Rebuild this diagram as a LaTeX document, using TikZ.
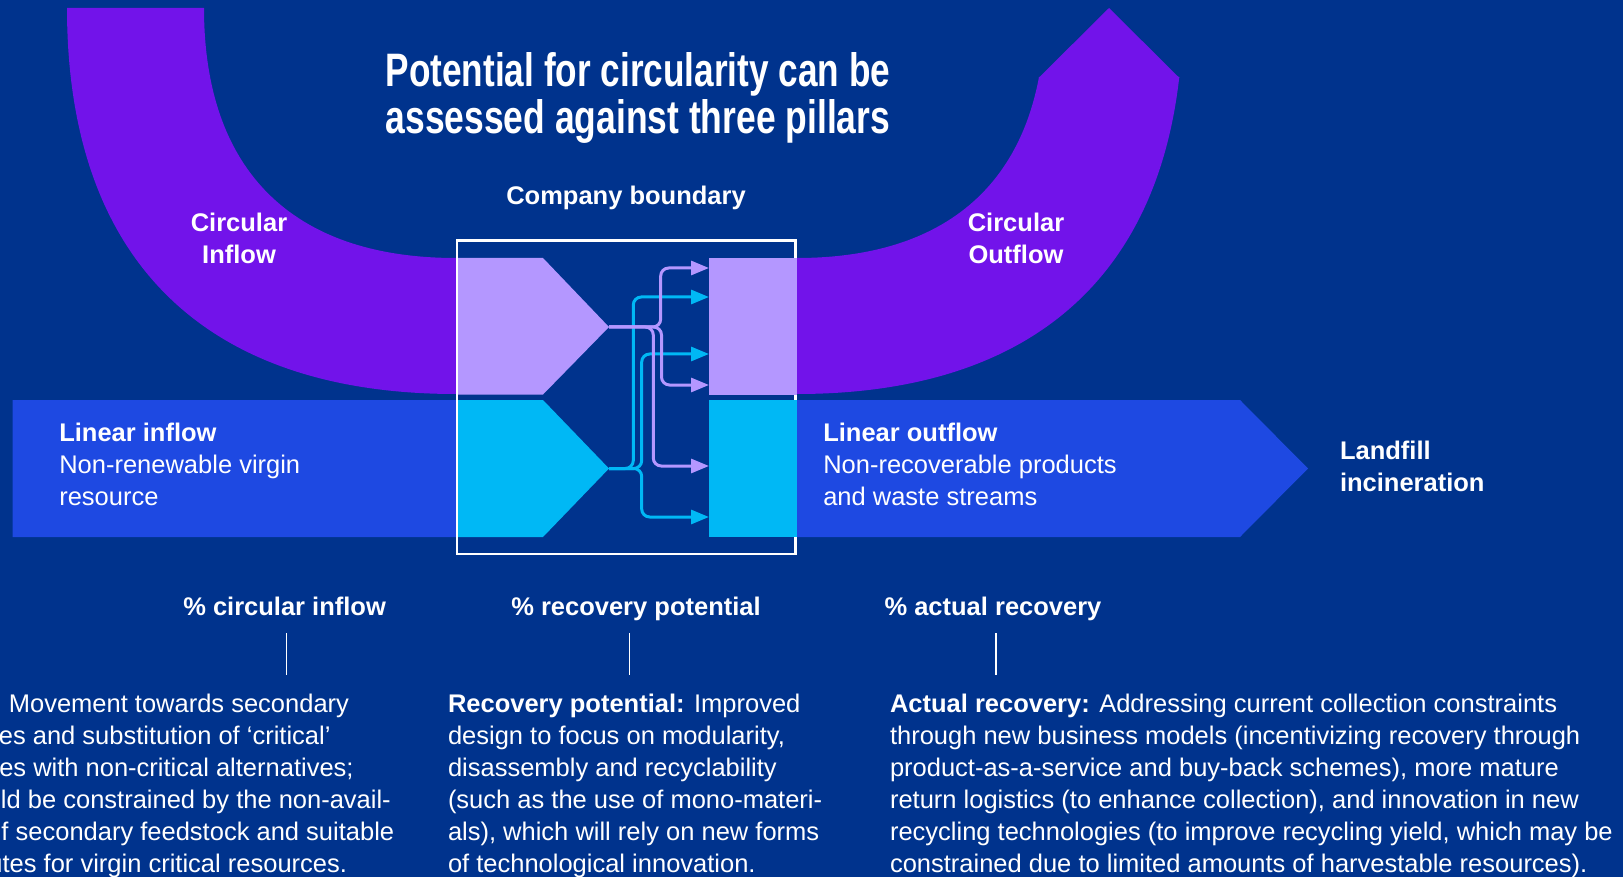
\documentclass[tikz,border=0pt]{standalone}
\usepackage{graphicx}
\usepackage{fontspec}
\setmainfont{Liberation Sans}
\usetikzlibrary{arrows.meta}
\definecolor{kbg}{HTML}{00338D}
\definecolor{kpurple}{HTML}{7213EA}
\definecolor{klpurple}{HTML}{B497FF}
\definecolor{kcobalt}{HTML}{1E49E2}
\definecolor{kcyan}{HTML}{00B8F5}
\begin{document}
\begin{tikzpicture}[x=1pt,y=-1pt,
  lbl/.style={inner sep=0pt, outer sep=0pt, text=white, font=\fontsize{25.5}{32}\selectfont},
  lblb/.style={inner sep=0pt, outer sep=0pt, text=white, font=\fontsize{25.5}{32}\selectfont\bfseries},
  flowP/.style={draw=klpurple, line width=3pt, rounded corners=8pt, -{Triangle[length=18pt,width=14pt]}},
  flowC/.style={draw=kcyan, line width=3pt, rounded corners=8pt, -{Triangle[length=18pt,width=14pt]}},
  tick/.style={draw=white, line width=1.5pt}]
\fill[kbg] (0,0) rectangle (1623,877);
\useasboundingbox (0,0) rectangle (1623,877);

% circular U band
\begin{scope}
\clip (0,0) -- (900,0) -- (900,77) -- (1623,77) -- (1623,877) -- (0,877) -- cycle;
\fill[kpurple] (67,8) .. controls (67,258.9) and (203.2,394) .. (456,394) -- (797,394)
  .. controls (1047.9,394) and (1183,258.9) .. (1183,8) -- (1045,8)
  .. controls (1045,170.5) and (958.2,258) .. (797,258) -- (456,258)
  .. controls (292.2,258) and (204,170.5) .. (204,8) -- cycle;
\end{scope}
\fill[kpurple] (1038.5,78) -- (1109,8) -- (1179.5,78) -- cycle;

% linear band
\fill[kcobalt] (12.7,400) -- (1240,400) -- (1308,468.5) -- (1240,537) -- (12.7,537) -- cycle;

% company boundary box
\filldraw[draw=white, fill=kbg, line width=2.2pt] (457,240.5) rectangle (795.5,553.7);

% chevrons
\fill[klpurple] (458.2,258) -- (543,258) -- (609,327) -- (543,394.5) -- (458.2,394.5) -- cycle;
\fill[kcyan] (458.2,400) -- (543,400) -- (609,468.5) -- (543,537) -- (458.2,537) -- cycle;
\coordinate (ptip) at (609,327);
\coordinate (ctip) at (609,468.5);

% output boxes
\node[fill=klpurple, inner sep=0pt, minimum width=88pt, minimum height=137pt, anchor=north west] (outP) at (709,258) {};
\node[fill=kcyan, inner sep=0pt, minimum width=88pt, minimum height=137pt, anchor=north west] (outC) at (709,400) {};

\coordinate (p1) at (709,268);
\coordinate (p2) at (709,385);
\coordinate (p3) at (709,466);
\coordinate (c1) at (709,297);
\coordinate (c2) at (709,354);
\coordinate (c3) at (709,517);

\draw[flowC] (ctip) -| (633.3,297) -- (c1);
\draw[flowC] (ctip) -| (641.7,354) -- (c2);
\draw[flowC] (ctip) -| (641.7,517) -- (c3);
\draw[flowP] (ptip) -| (660.7,268) -- (p1);
\draw[flowP] (ptip) -| (661.5,385) -- (p2);
\draw[flowP] (ptip) -| (653.3,466) -- (p3);

% title
\node[anchor=base west, inner sep=0pt, text=white] (title1) at (385.5,86.7)
  {\resizebox{504.5pt}{34pt}{\bfseries Potential for circularity can be}};
\node[anchor=base west, inner sep=0pt, text=white] (title2) at (385.5,133.3)
  {\resizebox{504.5pt}{34pt}{\bfseries assessed against three pillars}};

\node[lblb, anchor=base] (company) at (626,205) {Company boundary};
\node[lblb, anchor=base] (cin1) at (239,232) {Circular};
\node[lblb, anchor=base] (cin2) at (239,264) {Inflow};
\node[lblb, anchor=base] (cout1) at (1016,232) {Circular};
\node[lblb, anchor=base] (cout2) at (1016,264) {Outflow};

\node[lblb, anchor=base west] (lin1) at (59.3,441) {Linear inflow};
\node[lbl, anchor=base west] (lin2) at (59.3,473) {Non-renewable virgin};
\node[lbl, anchor=base west] (lin3) at (59.3,505) {resource};
\node[lblb, anchor=base west] (lout1) at (823.3,441) {Linear outflow};
\node[lbl, anchor=base west] (lout2) at (823.3,473) {Non-recoverable products};
\node[lbl, anchor=base west] (lout3) at (823.3,505) {and waste streams};
\node[lblb, anchor=base west] (land1) at (1340,459) {Landfill};
\node[lblb, anchor=base west] (land2) at (1340,491) {incineration};

% pillars
\node[lblb, anchor=base] (pil1) at (284.6,615) {\% circular inflow};
\node[lblb, anchor=base] (pil2) at (636,615) {\% recovery potential};
\node[lblb, anchor=base] (pil3) at (993,615) {\% actual recovery};
\draw[tick] (286.6,633) -- (286.6,675);
\draw[tick] (629.7,633) -- (629.7,675);
\draw[tick] (996,633) -- (996,675);

% paragraph 1 (cut at left edge, as in the reference)
\node[lbl, anchor=base east] (a1) at (349,712) {Movement towards secondary};
\node[lbl, anchor=base east] (a2) at (330.5,744) {es and substitution of ‘critical’};
\node[lbl, anchor=base east] (a3) at (353.6,776) {es with non-critical alternatives;};
\node[lbl, anchor=base west] (a4) at (1,808) {ld be constrained by the non-avail-};
\node[lbl, anchor=base west] (a5) at (1.5,840) {f secondary feedstock and suitable};
\node[lbl, anchor=base east] (a6) at (347,872) {utes for virgin critical resources.};

% paragraph 2
\node[lbl, anchor=base west] (b1) at (448,712) {\textbf{Recovery potential:} Improved};
\node[lbl, anchor=base west] (b2) at (448,744) {design to focus on modularity,};
\node[lbl, anchor=base west] (b3) at (448,776) {disassembly and recyclability};
\node[lbl, anchor=base west] (b4) at (448,808) {(such as the use of mono-materi-};
\node[lbl, anchor=base west] (b5) at (448,840) {als), which will rely on new forms};
\node[lbl, anchor=base west] (b6) at (448,872) {of technological innovation.};

% paragraph 3
\node[lbl, anchor=base west] (d1) at (890,712) {\textbf{Actual recovery:} Addressing current collection constraints};
\node[lbl, anchor=base west] (d2) at (890,744) {through new business models (incentivizing recovery through};
\node[lbl, anchor=base west] (d3) at (890,776) {product-as-a-service and buy-back schemes), more mature};
\node[lbl, anchor=base west] (d4) at (890,808) {return logistics (to enhance collection), and innovation in new};
\node[lbl, anchor=base west] (d5) at (890,840) {recycling technologies (to improve recycling yield, which may be};
\node[lbl, anchor=base west] (d6) at (890,872) {constrained due to limited amounts of harvestable resources).};
\end{tikzpicture}
\end{document}
